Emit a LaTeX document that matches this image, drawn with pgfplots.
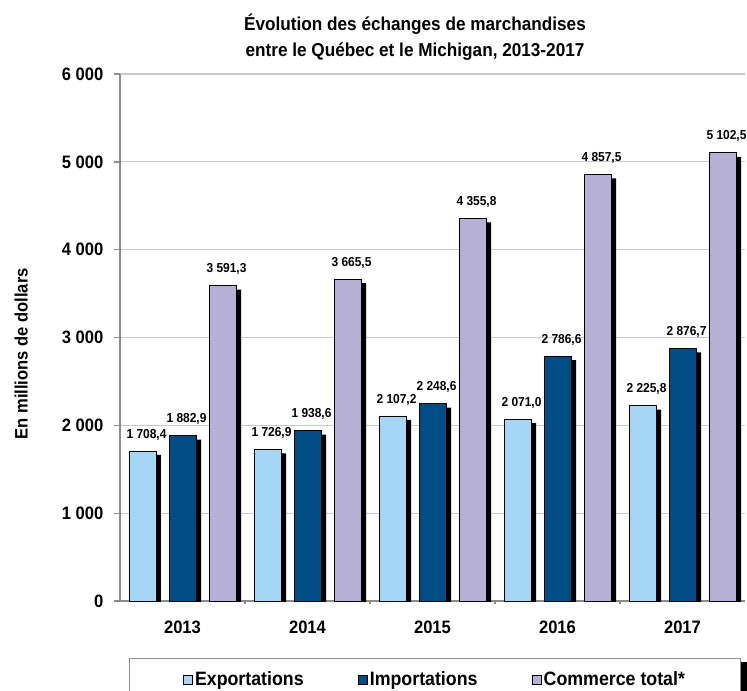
\documentclass[border=0pt]{standalone}
\usepackage{pgfplots}
\pgfplotsset{compat=1.18}
\usepackage{pgfplotstable}
\usepackage{fontspec}
\setmainfont{Liberation Sans}[FakeStretch=0.92]
\definecolor{cexp}{RGB}{166,214,245}
\definecolor{cimp}{RGB}{0,76,132}
\definecolor{ctot}{RGB}{182,176,214}
\definecolor{axgray}{RGB}{140,140,140}
\definecolor{gridgray}{RGB}{200,200,200}

\pgfplotstableread{
x exp imp tot
0 1708.4 1882.9 3591.3
1 1726.9 1938.6 3665.5
2 2107.2 2248.6 4355.8
3 2071.0 2786.6 4857.5
4 2225.8 2876.7 5102.5
}\datatable

\begin{document}
\begin{tikzpicture}
\useasboundingbox (0,0) rectangle (560.25pt,517.5pt);
\clip (0,0) rectangle (560.25pt,517.5pt);
\begin{axis}[
  at={(90pt,66.75pt)}, anchor=south west,
  scale only axis, width=468.75pt, height=395.25pt,
  xmin=-0.5, xmax=4.5, ymin=0, ymax=6000,
  axis lines*=left,
  axis line style={-, axgray, line width=1.2pt},
  ybar, bar width=20.25pt,
  /pgf/number format/1000 sep={\ },
  /pgf/number format/assume math mode=true,
  ytick={0,1000,...,6000},
  xtick={0,...,4},
  xticklabels={2013,2014,2015,2016,2017},
  minor xtick={0.5,1.5,2.5,3.5},
  tick align=outside,
  major tick length=4.5pt, minor tick length=2.5pt,
  tick style={axgray, line width=1pt},
  major x tick style={draw=none},
  ymajorgrids, major grid style={gridgray, line width=0.8pt},
  ticklabel style={font=\fontsize{13.5}{16}\selectfont\bfseries},
  yticklabel style={xshift=-4.5pt},
  xticklabel style={yshift=-6.75pt},
  every axis title/.style={at={(rel axis cs:0.472,1)}, anchor=south, align=center,
     font=\fontsize{14}{19}\selectfont\bfseries, yshift=7pt},
  title={Évolution des échanges de marchandises\\entre le Québec et le Michigan, 2013-2017},
  every axis y label/.style={at={(rel axis cs:-0.158,0.469)}, rotate=90, anchor=center,
     font=\fontsize{13.5}{16}\selectfont\bfseries},
  ylabel={En millions de dollars},
  legend columns=3,
  legend cell align=left,
  legend style={name=mylegend, at={(rel axis cs:0.0144,-0.108)}, anchor=north west,
     draw=axgray, line width=0.8pt, fill=white,
     inner xsep=40pt, inner ysep=8pt,
     font=\fontsize{14.5}{17}\selectfont\bfseries,
     nodes={inner xsep=1.5pt, inner ysep=2pt},
     /tikz/column 2/.append style={column sep=39pt},
     /tikz/column 4/.append style={column sep=39pt}},
  legend image code/.code={\draw[#1, draw=black, line width=0.6pt] (0pt,-3.5pt) rectangle (7pt,3.5pt);},
  nodes near coords={\pgfmathprintnumber[fixed, fixed zerofill, precision=1, use comma, 1000 sep={\ }, assume math mode=true]{\pgfplotspointmeta}},
  every node near coord/.append style={font=\fontsize{9.75}{11}\selectfont\bfseries, yshift=4.5pt, xshift=3pt, text=black},
]
% shadows
\addplot[forget plot, fill=black, draw=none, bar shift=-26.25pt, yshift=-3pt, nodes near coords={}] table[x=x,y=exp]{\datatable};
\addplot[forget plot, fill=black, draw=none, bar shift=3.75pt, yshift=-3pt, nodes near coords={}] table[x=x,y=imp]{\datatable};
\addplot[forget plot, fill=black, draw=none, bar shift=33.75pt, yshift=-3pt, nodes near coords={}] table[x=x,y=tot]{\datatable};
% bars
\addplot[forget plot, fill=cexp, draw=black, line width=0.6pt, bar shift=-30pt] table[x=x,y=exp]{\datatable};
\addplot[forget plot, fill=cimp, draw=black, line width=0.6pt, bar shift=0pt] table[x=x,y=imp]{\datatable};
\addplot[forget plot, fill=ctot, draw=black, line width=0.6pt, bar shift=30pt] table[x=x,y=tot]{\datatable};
\addlegendimage{fill=cexp}
\addlegendentry{Exportations}
\addlegendimage{fill=cimp}
\addlegendentry{Importations}
\addlegendimage{fill=ctot}
\addlegendentry{Commerce total*}
\end{axis}
\fill[black] ([xshift=0.4pt,yshift=-3pt]mylegend.north east) rectangle ([xshift=4.5pt,yshift=-3pt]mylegend.south east);
\end{tikzpicture}
\end{document}
